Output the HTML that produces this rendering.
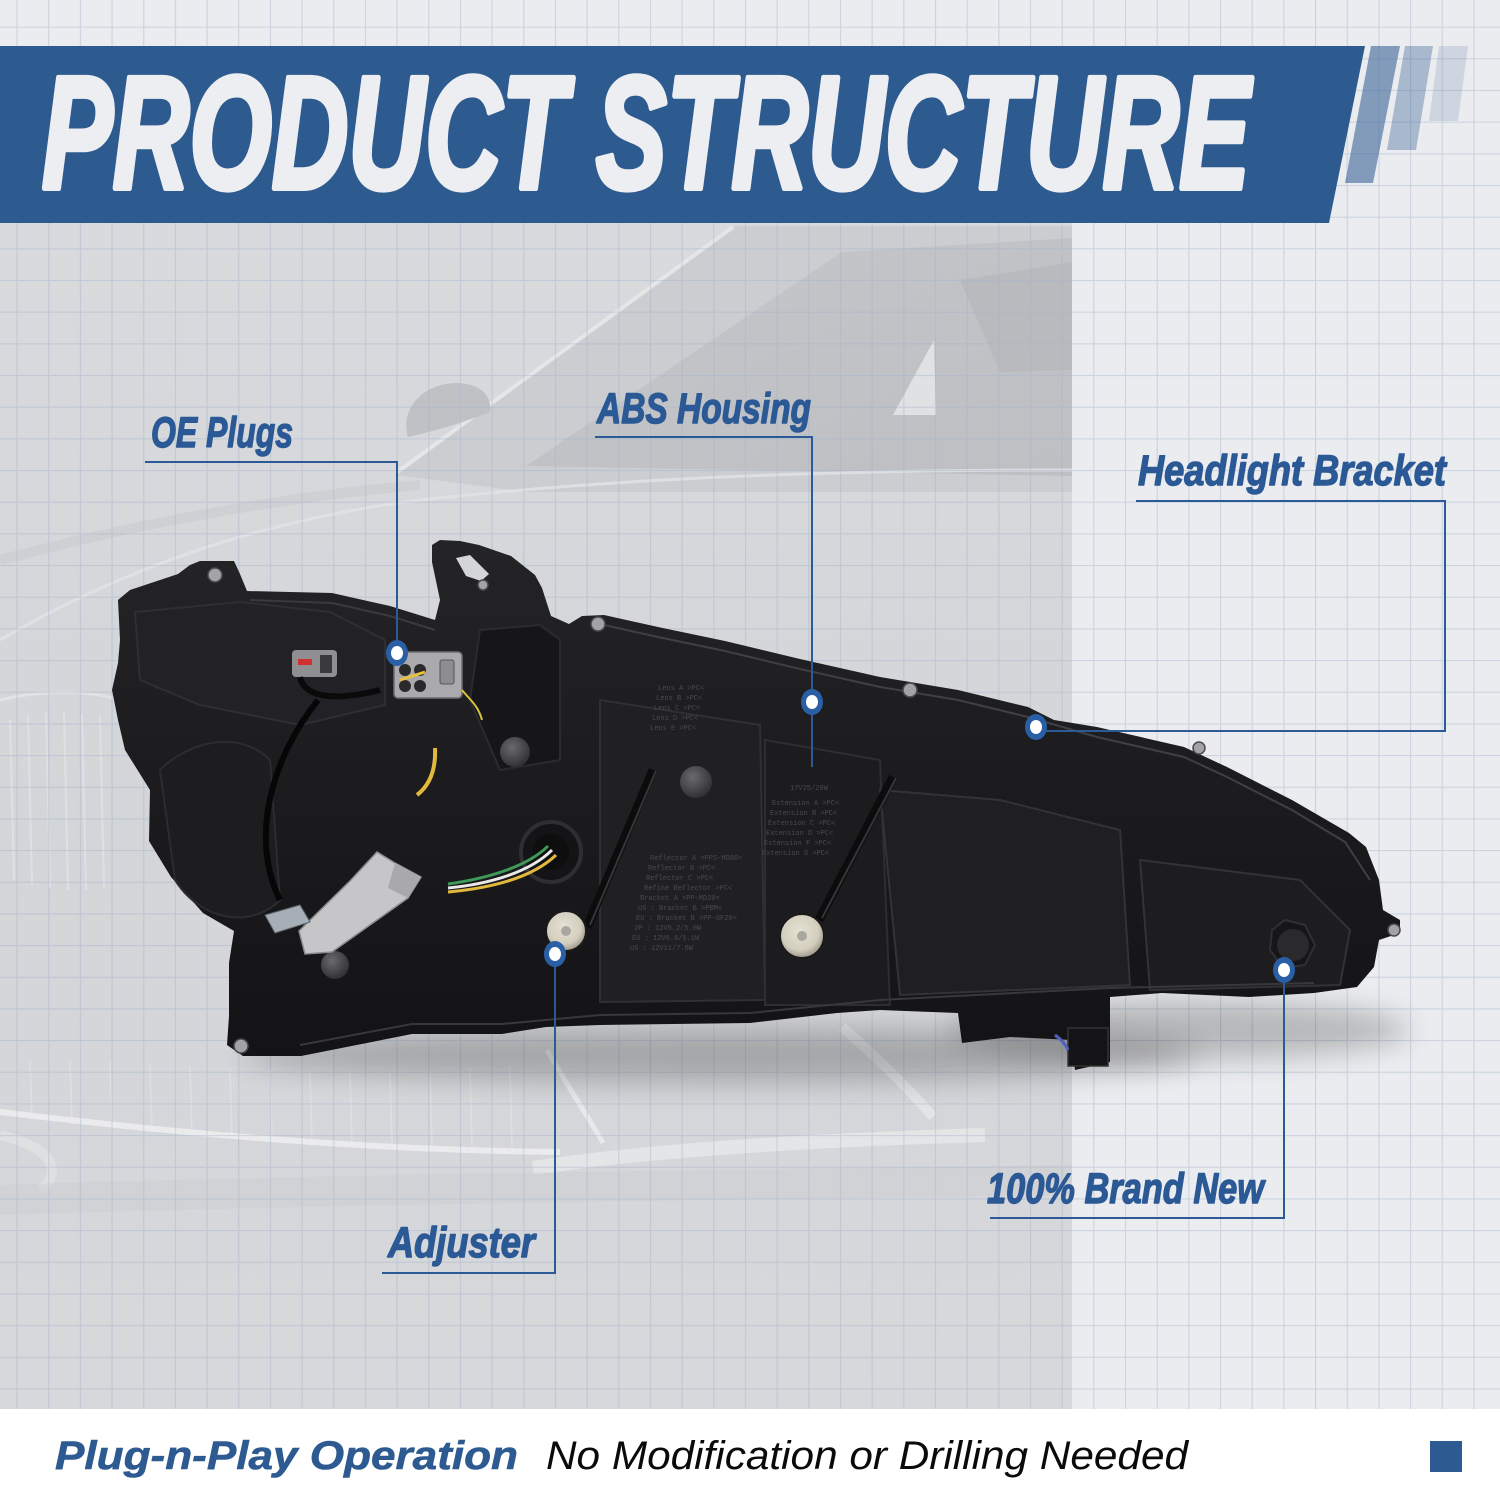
<!DOCTYPE html>
<html>
<head>
<meta charset="utf-8">
<style>
html,body{margin:0;padding:0;background:#eaecef;}
svg{display:block;}
.lbl{font-family:"Liberation Sans Narrow","Liberation Sans",sans-serif;font-weight:bold;font-style:italic;fill:#2b5995;stroke:#2b5995;stroke-width:1.4px;stroke-linejoin:round;font-size:43px;}
.tiny{font-family:"Liberation Mono",monospace;font-size:7px;fill:#4a4a4d;}
</style>
</head>
<body>
<svg width="1500" height="1500" viewBox="0 0 1500 1500" xmlns="http://www.w3.org/2000/svg">
<defs>
  <pattern id="grid" x="16.5" y="26.6" width="31.67" height="31.67" patternUnits="userSpaceOnUse">
    <path d="M0.5 0V31.67M0 0.5H31.67" stroke="#9fb2ca" stroke-width="1.3" fill="none"/>
  </pattern>
  <linearGradient id="panelg" x1="0" y1="0" x2="0" y2="1">
    <stop offset="0" stop-color="#d8dadd"/>
    <stop offset="0.5" stop-color="#d3d5d8"/>
    <stop offset="1" stop-color="#d6d8db"/>
  </linearGradient>
  <linearGradient id="winG" x1="0" y1="0" x2="1" y2="1">
    <stop offset="0" stop-color="#c4c6ca"/>
    <stop offset="1" stop-color="#bdbfc3"/>
  </linearGradient>
  <radialGradient id="knob" cx="0.45" cy="0.4" r="0.6">
    <stop offset="0" stop-color="#e6e2d4"/>
    <stop offset="0.7" stop-color="#d3cebd"/>
    <stop offset="1" stop-color="#9d998c"/>
  </radialGradient>
  <radialGradient id="cap" cx="0.4" cy="0.35" r="0.7">
    <stop offset="0" stop-color="#6a6a6d"/>
    <stop offset="1" stop-color="#2e2e31"/>
  </radialGradient>
  <linearGradient id="hl" x1="0" y1="0" x2="0" y2="1">
    <stop offset="0" stop-color="#242427"/>
    <stop offset="0.5" stop-color="#1b1b1d"/>
    <stop offset="1" stop-color="#131315"/>
  </linearGradient>
  <filter id="blur" x="-20%" y="-100%" width="140%" height="300%">
    <feGaussianBlur stdDeviation="14"/>
  </filter>
  <clipPath id="panelClip"><rect x="0" y="223" width="1072" height="1186"/></clipPath>
</defs>

<rect x="0" y="0" width="1500" height="1500" fill="#eaecef"/>

<rect x="0" y="223" width="1072" height="1186" fill="url(#panelg)"/>
<g clip-path="url(#panelClip)">
  <polygon points="396,475 735,226 1072,226 1072,492 526,492" fill="#cbcdd0"/>
  <polygon points="526,466 842,252 1072,238 1072,476" fill="url(#winG)"/>
  <polygon points="960,280 1072,262 1072,370 1000,372" fill="#b8babe"/>
  <polygon points="893,415 934,340 936,415" fill="#dfe1e3"/>
  <line x1="396" y1="473" x2="733" y2="227" stroke="#e9eaec" stroke-width="4" opacity="0.8"/>
  <path d="M408,437 C400,410 420,385 455,383 C480,383 492,395 490,412 C470,420 440,430 408,437 Z" fill="#bfc1c5"/>
  <path d="M0,640 C120,570 260,520 420,500 C600,480 800,470 1072,470" stroke="#e2e4e6" stroke-width="3" fill="none" opacity="0.8"/>
  <path d="M0,560 C150,520 300,495 420,485" stroke="#c9cbce" stroke-width="10" fill="none" opacity="0.6"/>
  <g stroke="#e4e5e7" stroke-width="2" opacity="0.7">
    <line x1="10" y1="720" x2="14" y2="880"/><line x1="28" y1="715" x2="32" y2="885"/>
    <line x1="46" y1="712" x2="50" y2="888"/><line x1="64" y1="712" x2="68" y2="890"/>
    <line x1="82" y1="714" x2="86" y2="890"/><line x1="100" y1="716" x2="104" y2="888"/>
  </g>
  <path d="M0,700 C40,690 90,690 120,700" stroke="#e6e7e9" stroke-width="3" fill="none" opacity="0.7"/>
  <g stroke="#e6e7e9" stroke-width="1.5" opacity="0.55">
    <line x1="30" y1="1060" x2="32" y2="1120"/><line x1="70" y1="1060" x2="72" y2="1125"/>
    <line x1="110" y1="1062" x2="112" y2="1128"/><line x1="150" y1="1064" x2="152" y2="1132"/>
    <line x1="190" y1="1066" x2="192" y2="1135"/><line x1="230" y1="1068" x2="232" y2="1138"/>
    <line x1="270" y1="1070" x2="272" y2="1140"/><line x1="310" y1="1072" x2="312" y2="1142"/>
    <line x1="350" y1="1072" x2="352" y2="1144"/><line x1="390" y1="1072" x2="392" y2="1146"/>
    <line x1="430" y1="1070" x2="432" y2="1146"/><line x1="470" y1="1068" x2="472" y2="1148"/>
    <line x1="510" y1="1066" x2="512" y2="1148"/>
  </g>
  <path d="M0,1112 C150,1130 350,1150 560,1152" stroke="#eeeff0" stroke-width="6" fill="none" opacity="0.85"/>
  <path d="M0,1135 C60,1150 60,1175 40,1190" stroke="#e5e6e8" stroke-width="10" fill="none" opacity="0.6"/>
  <path d="M547,1050 C570,1090 590,1120 603,1143" stroke="#eceef0" stroke-width="5" fill="none" opacity="0.8"/>
  <path d="M533,1168 C650,1150 820,1140 985,1135" stroke="#e8e9eb" stroke-width="14" fill="none" opacity="0.75"/>
  <path d="M842,1027 C880,1060 910,1090 933,1117" stroke="#e8e9eb" stroke-width="10" fill="none" opacity="0.7"/>
  <path d="M0,1200 C300,1190 700,1185 1072,1180" stroke="#c8cacd" stroke-width="30" fill="none" opacity="0.4"/>
</g>

<rect x="0" y="0" width="1500" height="1409" fill="url(#grid)" opacity="0.42"/>

<ellipse cx="720" cy="1055" rx="480" ry="28" fill="#000" opacity="0.22" filter="url(#blur)"/>
<ellipse cx="1180" cy="1030" rx="230" ry="30" fill="#000" opacity="0.22" filter="url(#blur)"/>

<g>
  <path d="M118,600 L130,590 L160,580 L178,574 L190,565 L200,561 L234,561 L240,574 L247,591 L332,593 L390,606 L435,620 L440,600 L432,562 L432,545 L440,540 L460,541 L479,545 L511,556 L535,575 L542,588 L551,616 L569,624 L582,616 L604,615 L658,627 L725,641 L800,659 L880,677 L958,690 L1028,707 L1054,720 L1097,727 L1184,747 L1227,767 L1292,800 L1349,833 L1366,847 L1379,880 L1383,910 L1400,920 L1400,933 L1379,940 L1374,967 L1357,987 L1314,993 L1249,997 L1162,993 L1110,997 L1110,1062 L1075,1070 L1071,1040 L1010,1037 L962,1043 L958,1013 L880,1010 L837,1013 L750,1023 L600,1025 L546,1027 L502,1034 L412,1034 L301,1056 L243,1056 L227,1045 L229,1016 L229,963 L234,931 L203,913 L171,877 L149,841 L150,790 L125,750 L118,720 L112,690 L118,663 L120,640 Z" fill="url(#hl)"/>
  <polygon points="456,558 470,555 489,574 481,581 466,576" fill="#d3d5d8"/>
  <path d="M135,612 L240,602 L330,612 L385,640 L385,705 L300,725 L200,705 L140,680 Z" fill="#222226" stroke="#2f2f33" stroke-width="2"/>
  <path d="M160,770 C190,740 240,730 270,760 L280,900 C250,930 200,920 175,880 Z" fill="#1d1d20" stroke="#2c2c30" stroke-width="2"/>
  <path d="M600,700 L760,725 L765,1000 L600,1002 Z" fill="#202023" stroke="#303034" stroke-width="2"/>
  <path d="M765,740 L880,760 L890,1005 L765,1005 Z" fill="#1c1c1f" stroke="#2e2e32" stroke-width="2"/>
  <path d="M880,790 L1000,800 L1120,830 L1130,985 L900,995 Z" fill="#1f1f22" stroke="#333337" stroke-width="2"/>
  <path d="M1140,860 L1300,880 L1350,930 L1340,985 L1150,990 Z" fill="#1d1d20" stroke="#333337" stroke-width="2"/>
  <path d="M480,630 L540,625 L560,640 L560,760 L500,770 L470,700 Z" fill="#161618" stroke="#2b2b2f" stroke-width="2"/>
  <polyline points="604,625 658,637 725,651 800,669 880,687 958,700 1028,717 1097,737 1184,757 1227,777 1292,810 1345,842 1370,880" fill="none" stroke="#404044" stroke-width="2"/>
  <polyline points="250,600 332,603 390,616 435,630" fill="none" stroke="#3a3a3e" stroke-width="2"/>
  <polyline points="300,1045 412,1024 502,1024 600,1015 750,1013 880,1000 1110,988 1314,983" fill="none" stroke="#38383c" stroke-width="2"/>
  <line x1="587" y1="927" x2="653" y2="770" stroke="#0c0c0d" stroke-width="9"/>
  <line x1="590" y1="925" x2="656" y2="771" stroke="#35353a" stroke-width="2"/>
  <line x1="819" y1="920" x2="893" y2="777" stroke="#0c0c0d" stroke-width="9"/>
  <line x1="822" y1="918" x2="896" y2="778" stroke="#35353a" stroke-width="2"/>
  <circle cx="551" cy="852" r="30" fill="#141416" stroke="#2f2f33" stroke-width="4"/>
  <circle cx="551" cy="852" r="18" fill="#0e0e0f"/>
  <circle cx="515" cy="752" r="15" fill="url(#cap)"/>
  <circle cx="696" cy="782" r="16" fill="url(#cap)"/>
  <circle cx="335" cy="965" r="14" fill="url(#cap)"/>
  <path d="M1285,920 L1305,925 L1315,945 L1305,965 L1283,968 L1270,950 L1272,930 Z" fill="#161618" stroke="#303034" stroke-width="2"/>
  <circle cx="1293" cy="945" r="16" fill="#2a2a2d"/>
  <circle cx="566" cy="931" r="20" fill="url(#knob)" stroke="#1a1a1a" stroke-width="2"/>
  <circle cx="566" cy="931" r="5" fill="#a9a89f"/>
  <circle cx="802" cy="936" r="22" fill="url(#knob)" stroke="#1a1a1a" stroke-width="2"/>
  <circle cx="802" cy="936" r="5" fill="#a9a89f"/>
  <g fill="#a3a3a5" stroke="#4a4a4d" stroke-width="1.5">
    <circle cx="215" cy="575" r="7"/><circle cx="598" cy="624" r="7"/>
    <circle cx="910" cy="690" r="7"/><circle cx="1199" cy="748" r="6"/>
    <circle cx="1394" cy="930" r="6"/><circle cx="241" cy="1046" r="7"/>
    <circle cx="483" cy="585" r="5"/>
  </g>
  <rect x="292" y="650" width="45" height="27" rx="4" fill="#8f8f92"/>
  <rect x="298" y="659" width="14" height="6" fill="#d22f2f"/>
  <rect x="320" y="655" width="12" height="18" fill="#3a3a3c"/>
  <path d="M300,677 C305,700 340,700 380,690" stroke="#0a0a0a" stroke-width="6" fill="none"/>
  <rect x="394" y="652" width="68" height="46" rx="4" fill="#aaaaac" stroke="#6e6e70" stroke-width="1.5"/>
  <rect x="440" y="660" width="14" height="24" rx="2" fill="#8d8d90" stroke="#555" stroke-width="1"/>
  <circle cx="405" cy="670" r="6" fill="#2a2a2c"/><circle cx="420" cy="670" r="6" fill="#2a2a2c"/>
  <circle cx="405" cy="686" r="6" fill="#2a2a2c"/><circle cx="420" cy="686" r="6" fill="#2a2a2c"/>
  <path d="M400,680 L425,672" stroke="#e7c23e" stroke-width="3"/>
  <path d="M462,690 C470,700 478,705 482,720" stroke="#d9c23c" stroke-width="2" fill="none"/>
  <path d="M318,700 C270,760 250,840 280,900" stroke="#060606" stroke-width="6" fill="none"/>
  <path d="M435,748 C436,770 430,785 417,795" stroke="#e2b93c" stroke-width="4" fill="none"/>
  <path d="M448,888 C490,884 530,872 552,850" stroke="#e9e9e9" stroke-width="3" fill="none"/>
  <path d="M448,884 C490,878 528,866 548,846" stroke="#3d9a58" stroke-width="3" fill="none"/>
  <path d="M448,892 C492,888 532,878 556,855" stroke="#e2b93c" stroke-width="3" fill="none"/>
  <polygon points="377,852 395,863 421,877 408,898 332,952 305,954 299,931 350,881" fill="#c6c6c8" stroke="#8c8c8f" stroke-width="1.5"/>
  <polygon points="395,863 421,877 408,898 388,888" fill="#a9a9ab"/>
  <polygon points="265,915 300,905 310,922 275,933" fill="#a6aeb7" stroke="#5d646c" stroke-width="1"/>
  <rect x="1068" y="1028" width="40" height="38" fill="#141416" stroke="#333" stroke-width="1.5"/>
  <path d="M1055,1035 C1062,1040 1066,1045 1068,1050" stroke="#5060c0" stroke-width="3" fill="none"/>
  <g class="tiny">
    <text x="658" y="690">Lens A &gt;PC&lt;</text>
    <text x="656" y="700">Lens B &gt;PC&lt;</text>
    <text x="654" y="710">Lens C &gt;PC&lt;</text>
    <text x="652" y="720">Lens D &gt;PC&lt;</text>
    <text x="650" y="730">Lens E &gt;PC&lt;</text>
    <text x="650" y="860">Reflector A &gt;PPS-MD80&lt;</text>
    <text x="648" y="870">Reflector B &gt;PC&lt;</text>
    <text x="646" y="880">Reflector C &gt;PC&lt;</text>
    <text x="644" y="890">Refine Reflector &gt;PC&lt;</text>
    <text x="640" y="900">Bracket A &gt;PP-MD20&lt;</text>
    <text x="638" y="910">US : Bracket B &gt;PBM&lt;</text>
    <text x="636" y="920">EU : Bracket B &gt;PP-GF20&lt;</text>
    <text x="634" y="930">JP : 12V5.2/5.0W</text>
    <text x="632" y="940">EU : 12V6.6/5.1W</text>
    <text x="630" y="950">US : 12V11/7.6W</text>
    <text x="790" y="790">17V25/20W</text>
    <text x="772" y="805">Extension A &gt;PC&lt;</text>
    <text x="770" y="815">Extension B &gt;PC&lt;</text>
    <text x="768" y="825">Extension C &gt;PC&lt;</text>
    <text x="766" y="835">Extension D &gt;PC&lt;</text>
    <text x="764" y="845">Extension F &gt;PC&lt;</text>
    <text x="762" y="855">Extension G &gt;PC&lt;</text>
  </g>
</g>

<g stroke="#2b5a96" stroke-width="2" fill="none">
  <path d="M145,462 H397 V653"/>
  <path d="M595,437 H812 V767"/>
  <path d="M1136,501 H1445 V731 H1036"/>
  <path d="M382,1273 H555 V954"/>
  <path d="M990,1218 H1284 V970"/>
</g>
<g>
  <ellipse cx="397" cy="653" rx="11" ry="13" fill="#2a5fa5"/><ellipse cx="397" cy="653" rx="6" ry="7" fill="#ffffff"/>
  <ellipse cx="812" cy="702" rx="11" ry="13" fill="#2a5fa5"/><ellipse cx="812" cy="702" rx="6" ry="7" fill="#ffffff"/>
  <ellipse cx="1036" cy="727" rx="11" ry="13" fill="#2a5fa5"/><ellipse cx="1036" cy="727" rx="6" ry="7" fill="#ffffff"/>
  <ellipse cx="555" cy="954" rx="11" ry="13" fill="#2a5fa5"/><ellipse cx="555" cy="954" rx="6" ry="7" fill="#ffffff"/>
  <ellipse cx="1284" cy="970" rx="11" ry="13" fill="#2a5fa5"/><ellipse cx="1284" cy="970" rx="6" ry="7" fill="#ffffff"/>
</g>
<text class="lbl" x="151" y="447" textLength="142" lengthAdjust="spacingAndGlyphs">OE Plugs</text>
<text class="lbl" x="597" y="423" textLength="214" lengthAdjust="spacingAndGlyphs">ABS Housing</text>
<text class="lbl" x="1138" y="485" textLength="308" lengthAdjust="spacingAndGlyphs">Headlight Bracket</text>
<text class="lbl" x="388" y="1257" textLength="147" lengthAdjust="spacingAndGlyphs">Adjuster</text>
<text class="lbl" x="987" y="1203" textLength="277" lengthAdjust="spacingAndGlyphs">100% Brand New</text>

<polygon points="0,46 1365,46 1329,223 0,223" fill="#2d5a8f"/>
<polygon points="1371,46 1400,46 1373,183 1345,183" fill="#2d5a8f" opacity="0.55"/>
<polygon points="1405,46 1433,46 1416,150 1387,150" fill="#2d5a8f" opacity="0.35"/>
<polygon points="1439,46 1468,46 1458,121 1429,121" fill="#2d5a8f" opacity="0.15"/>
<text x="42" y="188" textLength="1208" lengthAdjust="spacingAndGlyphs" style="font-family:'Liberation Sans Narrow','Liberation Sans',sans-serif;font-weight:bold;font-style:italic;font-size:160px;fill:#eceef1;stroke:#eceef1;stroke-width:6px;stroke-linejoin:round;">PRODUCT STRUCTURE</text>

<rect x="0" y="1409" width="1500" height="91" fill="#ffffff"/>
<text x="55" y="1469" textLength="463" lengthAdjust="spacingAndGlyphs" style="font-family:'Liberation Sans Narrow','Liberation Sans',sans-serif;font-weight:bold;font-style:italic;font-size:40px;fill:#2e5a92;stroke:#2e5a92;stroke-width:0.6px;">Plug-n-Play Operation</text>
<text x="546" y="1469" textLength="642" lengthAdjust="spacingAndGlyphs" style="font-family:'Liberation Sans Narrow','Liberation Sans',sans-serif;font-style:italic;font-size:40px;fill:#0a0a0a;">No Modification or Drilling Needed</text>
<rect x="1430" y="1441" width="32" height="31" fill="#2e5a92"/>
</svg>
</body>
</html>
